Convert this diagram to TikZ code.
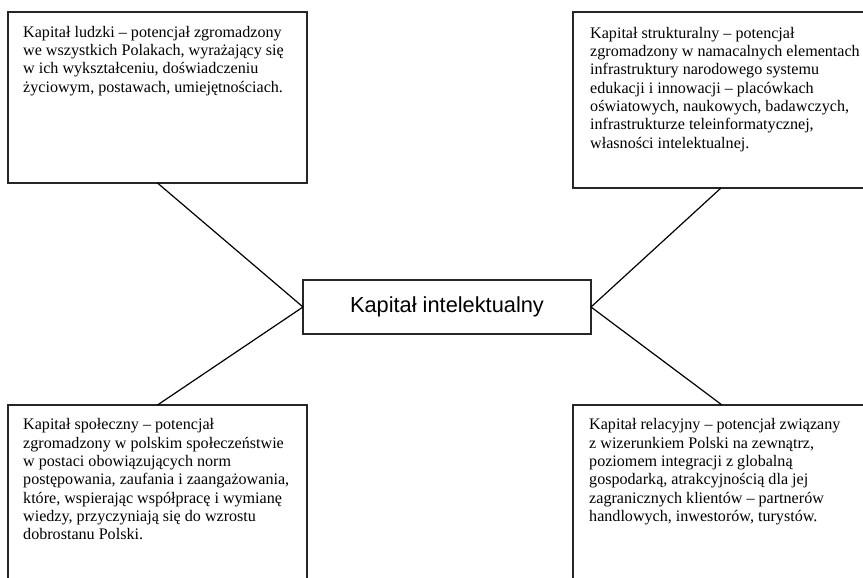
\documentclass[tikz,border=0pt]{standalone}
\usepackage{fontspec}
\setmainfont{Liberation Serif}
\newfontfamily\arialf{Liberation Sans}
\begin{document}
\begin{tikzpicture}[x=1pt,y=-1pt,
  box/.style={draw=black!85, line width=1.3pt, rectangle, inner sep=0pt, outer sep=0pt, anchor=north west},
  desc/.style={anchor=north west, inner sep=0pt, align=left, font=\fontsize{16.1}{18.3}\selectfont},
  link/.style={draw=black, line width=1.2pt}]
\useasboundingbox (0,0) rectangle (863,578);
\clip (0,0) rectangle (863,578);
\fill[white] (0,0) rectangle (863,578);
% boxes (the right and lower ones run past the edge of the picture)
\node[box, minimum width=299pt, minimum height=171pt] (tl) at (8,12) {};
\node[box, minimum width=340pt, minimum height=176pt] (tr) at (573,12) {};
\node[box, minimum width=299pt, minimum height=220pt] (bl) at (8,405) {};
\node[box, minimum width=340pt, minimum height=220pt] (br) at (573,405) {};
\node[box, minimum width=288pt, minimum height=54pt, anchor=center,
      font=\arialf\fontsize{21.8}{24}\selectfont] (c) at (447,307) {Kapitał intelektualny};
% texts
\node[desc] (tltext) at (23,26) {Kapitał ludzki – potencjał zgromadzony\\
we wszystkich Polakach, wyrażający się\\
w ich wykształceniu, doświadczeniu\\
życiowym, postawach, umiejętnościach.};
\node[desc] (trtext) at (590,27) {Kapitał strukturalny – potencjał\\
zgromadzony w namacalnych elementach\\
infrastruktury narodowego systemu\\
edukacji i innowacji – placówkach\\
oświatowych, naukowych, badawczych,\\
infrastrukturze teleinformatycznej,\\
własności intelektualnej.};
\node[desc] (bltext) at (23,418.5) {Kapitał społeczny – potencjał\\
zgromadzony w polskim społeczeństwie\\
w postaci obowiązujących norm\\
postępowania, zaufania i zaangażowania,\\
które, wspierając współpracę i wymianę\\
wiedzy, przyczyniają się do wzrostu\\
dobrostanu Polski.};
\node[desc] (brtext) at (589,418.5) {Kapitał relacyjny – potencjał związany\\
z wizerunkiem Polski na zewnątrz,\\
poziomem integracji z globalną\\
gospodarką, atrakcyjnością dla jej\\
zagranicznych klientów – partnerów\\
handlowych, inwestorów, turystów.};
% connectors
\draw[link] (tl.south) -- (c.west);
\draw[link] (bl.north) -- (c.west);
\draw[link] ([xshift=148pt]tr.south west) -- (c.east);
\draw[link] ([xshift=149pt]br.north west) -- (c.east);
\end{tikzpicture}
\end{document}
